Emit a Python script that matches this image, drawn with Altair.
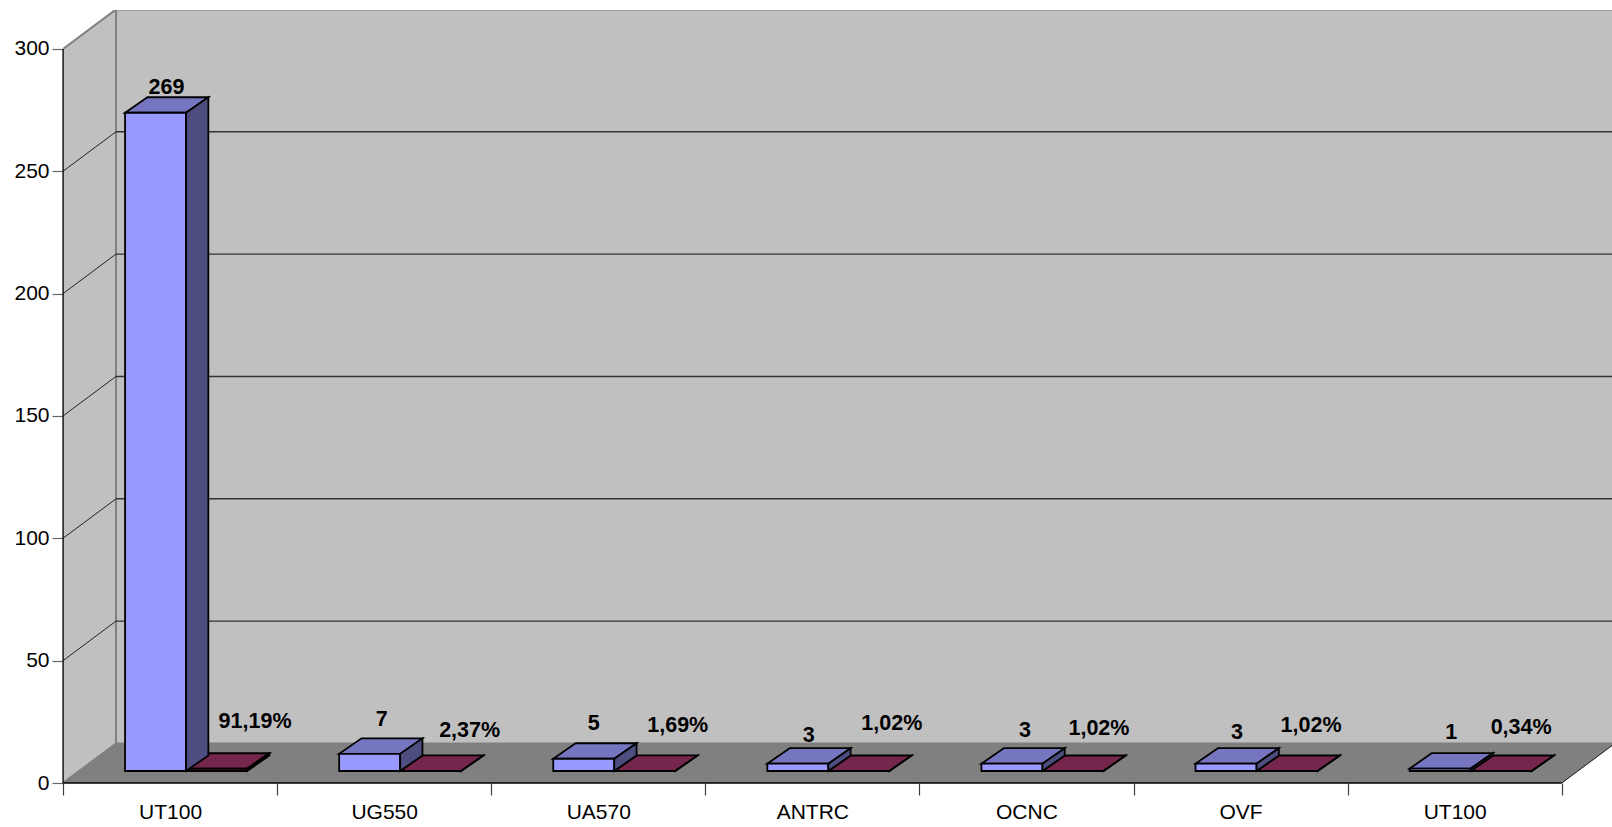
import json
import altair as alt
import pandas as pd

# Chart values
categories = ["UT100", "UG550", "UA570", "ANTRC", "OCNC", "OVF", "UT100"]
counts = [269, 7, 5, 3, 3, 3, 1]
shares = [0.9119, 0.0237, 0.0169, 0.0102, 0.0102, 0.0102, 0.0034]
share_labels = ["91,19%", "2,37%", "1,69%", "1,02%", "1,02%", "1,02%", "0,34%"]
y_ticks = [0, 50, 100, 150, 200, 250, 300]

# Hand placement of the data labels, in screen pixels relative to each bar
count_label_lift = [9, 18, 19, 12, 17, 15, 20]
count_label_shift = [-19.5, -18.5, -20.5, -19.5, -17.5, -19.5, -19.5]
share_label_lift = [31, 24, 29, 31, 26, 29, 27]
share_label_shift = [69, 69.5, 63.5, 63.5, 56.5, 54.5, 50.5]

# Pixel size of one data unit on each axis
PX_PER_CATEGORY = 214.1
PX_PER_VALUE = 2.447
PLOT_W, PLOT_H = 1549, 773


def ux(px):
    return px / PX_PER_CATEGORY


def uy(px):
    return px / PX_PER_VALUE


# Oblique projection: depth of the box and of the bars, as data offsets
WALL_DX, WALL_DY = ux(53), uy(39.5)
BAR_DX, BAR_DY = ux(22.3), uy(15.5)
BASE_DX, BASE_DY = ux(16), uy(12)
BAR_W = ux(61)
N = len(categories)
FONT = "Liberation Sans"

x_scale = alt.Scale(domain=[0, PLOT_W / PX_PER_CATEGORY], range=[0, PLOT_W], nice=False, zero=False)
y_scale = alt.Scale(domain=[0, PLOT_H / PX_PER_VALUE], range=[PLOT_H, 0], nice=False, zero=False)

# One shared definition per channel, so every layer merges into the same axes
label_expr = "(" + json.dumps(categories) + ")[datum.value] || ''"
x_axis = alt.Axis(
    values=list(range(N + 1)), title=None, domain=False, grid=False,
    tickSize=12, tickColor="#404040", tickWidth=1.2,
    labelExpr=label_expr, labelOffset=PX_PER_CATEGORY / 2,
    labelFont=FONT, labelFontSize=21, labelColor="black",
    labelPadding=6, labelOverlap=False, labelFlush=False, labelBound=False,
)
y_axis = alt.Axis(
    values=y_ticks, title=None, domain=False, grid=False,
    tickSize=11, tickColor="#666666", tickWidth=1.2,
    labelFont=FONT, labelFontSize=21, labelColor="black",
    labelPadding=3, labelOverlap=False, labelFlush=False, labelBound=False,
)
X = alt.X("x:Q", scale=x_scale, axis=x_axis)
Y = alt.Y("y:Q", scale=y_scale, axis=y_axis)


def upright(rows, fill, stroke="black", width=1.8):
    """Polygon whose left and right sides are vertical."""
    return (
        alt.Chart(pd.DataFrame(rows))
        .mark_area(fill=fill, stroke=stroke, strokeWidth=width, clip=True, opacity=1)
        .encode(x=X, y=Y, y2=alt.Y2("y2:Q"), detail="face:N")
    )


def flat(rows, fill, stroke="black", width=1.8):
    """Polygon whose top and bottom sides are horizontal."""
    return (
        alt.Chart(pd.DataFrame(rows))
        .mark_area(fill=fill, stroke=stroke, strokeWidth=width, clip=True, orient="horizontal", opacity=1)
        .encode(x=X, x2=alt.X2("x2:Q"), y=Y, detail="face:N")
    )


def front_rows(left, value):
    base = BASE_DY
    return [
        dict(face=left, x=left, y=base + value, y2=base),
        dict(face=left, x=left + BAR_W, y=base + value, y2=base),
    ]


def side_rows(left, value):
    right, base = left + BAR_W, BASE_DY
    return [
        dict(face=left, x=right, y=base + value, y2=base),
        dict(face=left, x=right + BAR_DX, y=base + value + BAR_DY, y2=base + BAR_DY),
    ]


def top_rows(left, value):
    top = BASE_DY + value
    return [
        dict(face=left, y=top, x=left, x2=left + BAR_W),
        dict(face=left, y=top + BAR_DY, x=left + BAR_DX, x2=left + BAR_W + BAR_DX),
    ]


def bar_layers(lefts, values, front, top, side):
    front_data, top_data, side_data = [], [], []
    for left, value in zip(lefts, values):
        front_data += front_rows(left, value)
        top_data += top_rows(left, value)
        side_data += side_rows(left, value)
    return [flat(top_data, top), upright(front_data, front), upright(side_data, side)]


centres = [i + 0.5 + BASE_DX for i in range(N)]
blue_lefts = [c - BAR_W for c in centres]
red_lefts = centres

# Box: left wall, back wall, floor
top_v = y_ticks[-1]
left_wall = upright(
    [
        dict(face=0, x=0, y=top_v, y2=0),
        dict(face=0, x=WALL_DX, y=top_v + WALL_DY, y2=WALL_DY),
    ],
    "#c0c0c0", "#808080", 2,
)
back_wall = upright(
    [
        dict(face=0, x=WALL_DX, y=top_v + WALL_DY, y2=WALL_DY),
        dict(face=0, x=N + WALL_DX, y=top_v + WALL_DY, y2=WALL_DY),
    ],
    "#c0c0c0", "#808080", 2,
)
floor = flat(
    [
        dict(face=0, y=0, x=0, x2=N),
        dict(face=0, y=WALL_DY, x=WALL_DX, x2=N + WALL_DX),
    ],
    "#808080", "#808080", 1,
)

# Gridlines on both walls
inner = [v for v in y_ticks if 0 < v < top_v]
back_grid = (
    alt.Chart(pd.DataFrame([dict(x=WALL_DX, x2=N + WALL_DX, y=v + WALL_DY) for v in inner]))
    .mark_rule(color="#333333", strokeWidth=1.4, clip=True)
    .encode(x=X, x2=alt.X2("x2:Q"), y=Y)
)
side_grid = (
    alt.Chart(pd.DataFrame([dict(x=0, x2=WALL_DX, y=v, y2=v + WALL_DY) for v in inner]))
    .mark_rule(color="#222222", strokeWidth=1)
    .encode(x=X, x2=alt.X2("x2:Q"), y=Y, y2=alt.Y2("y2:Q"))
)
floor_side = (
    alt.Chart(pd.DataFrame([dict(x=N, x2=N + WALL_DX, y=0, y2=WALL_DY)]))
    .mark_rule(color="#222222", strokeWidth=1, clip=True)
    .encode(x=X, x2=alt.X2("x2:Q"), y=Y, y2=alt.Y2("y2:Q"))
)
value_axis_line = (
    alt.Chart(pd.DataFrame([dict(x=0, y=0, y2=top_v)]))
    .mark_rule(color="black", strokeWidth=1.2)
    .encode(x=X, y=Y, y2=alt.Y2("y2:Q"))
)
category_axis_line = (
    alt.Chart(pd.DataFrame([dict(x=0, x2=N, y=0)]))
    .mark_rule(color="black", strokeWidth=1.5)
    .encode(x=X, x2=alt.X2("x2:Q"), y=Y)
)

# Data labels sit above the back edge of each bar top
label_rows = []
for i in range(N):
    label_rows.append(dict(
        x=centres[i] + ux(count_label_shift[i]),
        y=BASE_DY + counts[i] + BAR_DY + uy(count_label_lift[i]),
        text=str(counts[i]),
    ))
    label_rows.append(dict(
        x=centres[i] + ux(share_label_shift[i]),
        y=BASE_DY + shares[i] + BAR_DY + uy(share_label_lift[i]),
        text=share_labels[i],
    ))
labels = (
    alt.Chart(pd.DataFrame(label_rows))
    .mark_text(font=FONT, fontSize=21.5, fontWeight="bold", color="black", align="center", baseline="middle")
    .encode(x=X, y=Y, text="text:N")
)

chart = alt.layer(
    left_wall, back_wall, floor, back_grid, side_grid, floor_side,
    value_axis_line, category_axis_line,
    *bar_layers(red_lefts, shares, "#993366", "#74264d", "#4d1a33"),
    *bar_layers(blue_lefts, counts, "#9999ff", "#7676c0", "#4d4d80"),
    labels,
).properties(
    width=PLOT_W,
    height=PLOT_H,
    padding={"left": 63, "top": 10, "right": 0, "bottom": 43},
    autosize=alt.AutoSizeParams(type="none"),
    background="white",
).configure_view(stroke=None)

chart.save("out.html", embed_options={"renderer": "svg", "actions": False})
